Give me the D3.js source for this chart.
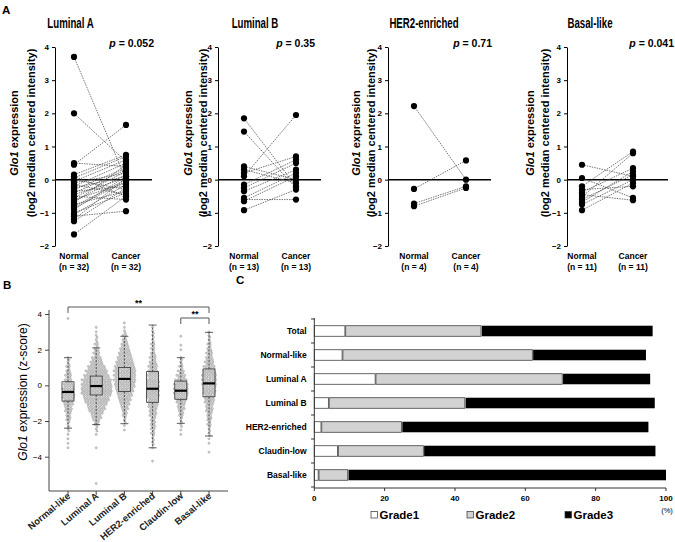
<!DOCTYPE html>
<html><head><meta charset="utf-8">
<script src="https://cdn.jsdelivr.net/npm/d3@7"></script>
<style>body{margin:0;background:#fff}svg{display:block}text{font-family:"Liberation Sans",Arial,sans-serif}</style>
</head><body><svg id="c" width="675" height="542"></svg>
<script>
// ---------- Panel A data ----------
const pairTitles = ["Luminal A", "Luminal B", "HER2-enriched", "Basal-like"];
const pValues = ["0.052", "0.35", "0.71", "0.041"];
const nCounts = [32, 13, 4, 11];
const lumANormal = [3.7, 2.0, 0.5, 0.45, 0.15, 0.1, 0.05, 0.0, -0.05, -0.1, -0.15, -0.2, -0.25, -0.3, -0.35, -0.4, -0.45, -0.5, -0.55, -0.6, -0.65, -0.7, -0.75, -0.8, -0.85, -0.9, -1.0, -1.05, -1.1, -1.2, -1.25, -1.65];
const lumACancer = [0.0, 0.55, 0.4, 1.65, 0.75, -0.5, 0.7, -0.3, 0.6, 0.2, -0.45, 0.5, 0.1, 0.35, -0.2, 0.3, 0.05, -0.6, 0.25, -0.1, 0.15, 0.45, -0.35, 0.0, -0.05, 0.1, -0.4, -0.15, -0.95, 0.05, -0.25, -0.5];
const lumBNormal = [1.85, 1.45, 0.4, 0.3, 0.2, 0.1, -0.15, -0.25, -0.35, -0.55, -0.6, -0.65, -0.92];
const lumBCancer = [-0.2, -0.25, 0.0, -0.1, 0.7, 1.95, 0.6, 0.5, 0.3, 0.2, -0.6, 0.1, -0.3];
const her2Normal = [2.22, -0.28, -0.72, -0.8];
const her2Cancer = [0.0, 0.58, -0.2, -0.25];
const basalNormal = [0.45, 0.05, -0.2, -0.3, -0.38, -0.45, -0.52, -0.6, -0.68, -0.75, -0.92];
const basalCancer = [0.1, -0.55, 0.85, -0.2, 0.35, -0.62, 0.8, 0.15, 0.25, 0.0, -0.1];
const pairTicks = [-2, -1, 0, 1, 2, 3, 4];

// ---------- Panel B data ----------
const boxCats = ["Normal-like", "Luminal A", "Luminal B", "HER2-enriched", "Claudin-low", "Basal-like"];
const boxQ1 = [-0.88, -0.54, -0.35, -0.95, -0.78, -0.64];
const boxMed = [-0.37, -0.04, 0.36, -0.19, -0.3, 0.11];
const boxQ3 = [0.2, 0.52, 1.0, 0.77, 0.24, 0.92];
const whiskLo = [-2.4, -2.2, -2.15, -3.5, -2.13, -2.84];
const whiskHi = [1.55, 2.1, 2.75, 3.38, 1.55, 2.97];
const boxTicks = [-4, -2, 0, 2, 4];
// binned point counts (bin centre, count), bins 0.25 wide
const swarmNormalLike = [[3.75,1],[1.5,2],[1.25,2],[1.0,3],[0.75,4],[0.5,5],[0.25,6],[0.0,8],[-0.25,9],[-0.5,10],[-0.75,9],[-1.0,8],[-1.25,6],[-1.5,5],[-1.75,4],[-2.0,3],[-2.25,2],[-2.5,2],[-2.75,1],[-3.0,1],[-3.25,1],[-3.5,1]];
const swarmLumA = [[3.25,1],[3.0,1],[2.75,2],[2.5,2],[2.25,3],[2.0,4],[1.75,5],[1.5,8],[1.25,10],[1.0,14],[0.75,17],[0.5,20],[0.25,23],[0.0,24],[-0.25,24],[-0.5,23],[-0.75,20],[-1.0,17],[-1.25,14],[-1.5,11],[-1.75,8],[-2.0,5],[-2.25,3],[-2.5,2],[-2.75,1],[-3.5,1],[-5.5,1]];
const swarmLumB = [[3.5,1],[3.25,1],[3.0,2],[2.75,3],[2.5,4],[2.25,6],[2.0,8],[1.75,10],[1.5,12],[1.25,14],[1.0,16],[0.75,17],[0.5,17],[0.25,17],[0.0,16],[-0.25,14],[-0.5,12],[-0.75,10],[-1.0,8],[-1.25,6],[-1.5,4],[-1.75,3],[-2.0,2],[-2.25,1],[-2.5,1]];
const swarmHER2 = [[3.25,1],[3.0,2],[2.75,2],[2.5,2],[2.25,3],[2.0,3],[1.75,4],[1.5,5],[1.25,6],[1.0,7],[0.75,8],[0.5,9],[0.25,10],[0.0,10],[-0.25,10],[-0.5,10],[-0.75,9],[-1.0,8],[-1.25,7],[-1.5,6],[-1.75,5],[-2.0,4],[-2.25,4],[-2.5,3],[-2.75,3],[-3.0,2],[-3.25,2],[-3.5,1],[-4.25,1]];
const swarmClaudin = [[2.75,1],[2.25,1],[2.0,1],[1.5,2],[1.25,2],[1.0,3],[0.75,5],[0.5,7],[0.25,9],[0.0,11],[-0.25,11],[-0.5,11],[-0.75,9],[-1.0,7],[-1.25,6],[-1.5,4],[-1.75,3],[-2.0,2],[-2.25,2],[-2.5,1],[-2.75,1]];
const swarmBasal = [[3.0,1],[2.75,2],[2.5,2],[2.25,3],[2.0,4],[1.75,5],[1.5,6],[1.25,7],[1.0,9],[0.75,10],[0.5,11],[0.25,11],[0.0,11],[-0.25,10],[-0.5,9],[-0.75,8],[-1.0,7],[-1.25,6],[-1.5,5],[-1.75,4],[-2.0,3],[-2.25,3],[-2.5,2],[-2.75,2],[-3.0,1],[-3.25,1],[-3.75,1]];

// ---------- Panel C data ----------
const gradeCats = ["Total", "Normal-like", "Luminal A", "Luminal B", "HER2-enriched", "Claudin-low", "Basal-like"];
const grade1 = [8.7, 7.9, 17.3, 4.0, 1.9, 6.6, 1.1];
const grade2 = [38.7, 54.1, 53.2, 38.8, 22.9, 24.4, 8.4];
const grade3 = [48.8, 32.3, 25.0, 54.0, 70.2, 66.0, 90.5];
const gradeNames = ["Grade1", "Grade2", "Grade3"];
const xTicksC = [0, 20, 40, 60, 80, 100];

// ---------- drawing ----------
const svg = d3.select("#c");
const FONT = '"Liberation Sans",Arial,sans-serif';

function letter(x, y, t) {
  svg.append("text").attr("x", x).attr("y", y).attr("font-size", 11.5).attr("font-weight", "bold").text(t);
}
letter(2, 14, "A"); letter(3, 289, "B"); letter(236, 284, "C");

// Panel A
const layA = [
  {ax: 55, nx: 74, cx: 126, ze: 152, l1: 18, l2: 35, tx: 70.5, px: 154},
  {ax: 218, nx: 244, cx: 296, ze: 321, l1: 192, l2: 207, tx: 255, px: 315},
  {ax: 388, nx: 414, cx: 466, ze: 491, l1: 360, l2: 375, tx: 424, px: 492},
  {ax: 567, nx: 582, cx: 633, ze: 668, l1: 534, l2: 549, tx: 590, px: 674}
];
const normals = [lumANormal, lumBNormal, her2Normal, basalNormal];
const cancers = [lumACancer, lumBCancer, her2Cancer, basalCancer];
const yA = d3.scaleLinear().domain([-2, 4]).range([246, 47]);

pairTitles.forEach((title, i) => {
  const L = layA[i];
  const g = svg.append("g");
  const tt = g.append("text").attr("x", L.tx).attr("y", 28).attr("text-anchor", "middle")
    .attr("font-size", 14).attr("font-weight", "bold").text(title);
  const w = tt.node().getComputedTextLength();
  tt.attr("textLength", w * 0.69).attr("lengthAdjust", "spacingAndGlyphs");
  const pt = g.append("text").attr("x", L.px).attr("y", 47).attr("text-anchor", "end")
    .attr("font-size", 10.5).attr("font-weight", "bold");
  pt.append("tspan").attr("font-style", "italic").text("p");
  pt.append("tspan").text(" = " + pValues[i]);
  const axis = d3.axisLeft(yA).tickValues(pairTicks).tickFormat(d3.format("d"))
    .tickSize(3).tickSizeOuter(0).tickPadding(3);
  const ag = g.append("g").attr("transform", `translate(${L.ax},0)`).call(axis);
  ag.selectAll("text").attr("font-size", 8).attr("font-weight", "bold").attr("font-family", FONT);
  ag.selectAll("line,path").attr("stroke", "#000").attr("stroke-width", 1);
  g.append("line").attr("x1", L.ax).attr("x2", L.ze).attr("y1", yA(0)).attr("y2", yA(0))
    .attr("stroke", "#000").attr("stroke-width", 1.5);
  const yl = g.append("text").attr("transform", `translate(${L.l1},133) rotate(-90)`)
    .attr("text-anchor", "middle").attr("font-size", 11).attr("font-weight", "bold");
  yl.append("tspan").attr("font-style", "italic").text("Glo1");
  yl.append("tspan").text(" expression");
  g.append("text").attr("transform", `translate(${L.l2},133) rotate(-90)`)
    .attr("text-anchor", "middle").attr("font-size", 11).attr("font-weight", "bold")
    .text("(log2 median centered intensity)");
  [[L.nx, "Normal"], [L.cx, "Cancer"]].forEach(([x, t]) => {
    g.append("text").attr("x", x).attr("y", 259).attr("text-anchor", "middle")
      .attr("font-size", 8.5).attr("font-weight", "bold").text(t);
    g.append("text").attr("x", x).attr("y", 270).attr("text-anchor", "middle")
      .attr("font-size", 8.5).attr("font-weight", "bold").text("(n = " + nCounts[i] + ")");
  });
  const nv = normals[i], cv = cancers[i];
  g.selectAll(".pl").data(nv).enter().append("line")
    .attr("x1", L.nx).attr("x2", L.cx)
    .attr("y1", d => yA(d)).attr("y2", (d, j) => yA(cv[j]))
    .attr("stroke", "#555").attr("stroke-width", 0.8).attr("stroke-dasharray", "1.5,1");
  g.selectAll(".nd").data(nv).enter().append("circle")
    .attr("cx", L.nx).attr("cy", d => yA(d)).attr("r", 3.1).attr("fill", "#000");
  g.selectAll(".cd").data(cv).enter().append("circle")
    .attr("cx", L.cx).attr("cy", d => yA(d)).attr("r", 3.1).attr("fill", "#000");
});

// Panel B
const yB = d3.scaleLinear().domain([-4, 4]).range([456.7, 314]);
const xB = d3.scalePoint().domain(boxCats).range([68, 209]);
const gB = svg.append("g");
const axB = d3.axisLeft(yB).tickValues(boxTicks).tickSize(4).tickSizeOuter(0).tickPadding(3);
const agB = gB.append("g").attr("transform", "translate(49,0)").call(axB);
agB.select(".domain").remove();
agB.selectAll("text").attr("font-size", 8).attr("font-family", FONT);
agB.selectAll("line").attr("stroke", "#444");
gB.append("line").attr("x1", 49).attr("x2", 49).attr("y1", 310).attr("y2", 491).attr("stroke", "#444");
gB.append("line").attr("x1", 49).attr("x2", 228).attr("y1", 491).attr("y2", 491).attr("stroke", "#444");
boxCats.forEach(c => {
  gB.append("line").attr("x1", xB(c)).attr("x2", xB(c)).attr("y1", 491).attr("y2", 495).attr("stroke", "#444");
  gB.append("text").attr("transform", `translate(${xB(c) + 3},497) rotate(-40)`)
    .attr("text-anchor", "end").attr("font-size", 9.5).attr("font-weight", "bold").attr("fill", "#222").text(c);
});
const ylB = gB.append("text").attr("transform", "translate(27,392) rotate(-90)")
  .attr("text-anchor", "middle").attr("font-size", 12);
ylB.append("tspan").attr("font-style", "italic").text("Glo1");
ylB.append("tspan").text(" expression (z-score)");

const swarms = [swarmNormalLike, swarmLumA, swarmLumB, swarmHER2, swarmClaudin, swarmBasal];
const rowOff = [-1.1, 1.1];
swarms.forEach((bins, ci) => {
  const cx = xB(boxCats[ci]);
  const pts = [];
  bins.forEach(([v, c]) => {
    for (let i = 0; i < c; i++) {
      const r = i % 2, k = Math.floor(i / 2);
      const m = Math.floor((c - r - 1) / 2) + 1;
      pts.push({x: cx + (k - (m - 1) / 2) * 2.6 + (r === 1 ? 0.8 : 0), y: yB(v) + (c > 1 ? rowOff[r] : 0)});
    }
  });
  gB.append("g").selectAll("circle").data(pts).enter().append("circle")
    .attr("cx", d => d.x).attr("cy", d => d.y).attr("r", 1.05)
    .attr("fill", "#d6d6d6").attr("stroke", "#8a8a8a").attr("stroke-width", 0.45);
});
boxCats.forEach((c, i) => {
  const cx = xB(c), hw = 6;
  const bg = gB.append("g").attr("stroke", "#333").attr("stroke-width", 0.8).attr("fill", "none");
  bg.append("line").attr("x1", cx).attr("x2", cx).attr("y1", yB(boxQ3[i])).attr("y2", yB(whiskHi[i])).attr("stroke-dasharray", "2,1.5");
  bg.append("line").attr("x1", cx).attr("x2", cx).attr("y1", yB(boxQ1[i])).attr("y2", yB(whiskLo[i])).attr("stroke-dasharray", "2,1.5");
  bg.append("line").attr("x1", cx - 4).attr("x2", cx + 4).attr("y1", yB(whiskHi[i])).attr("y2", yB(whiskHi[i]));
  bg.append("line").attr("x1", cx - 4).attr("x2", cx + 4).attr("y1", yB(whiskLo[i])).attr("y2", yB(whiskLo[i]));
  bg.append("rect").attr("x", cx - hw).attr("width", hw * 2).attr("y", yB(boxQ3[i])).attr("height", yB(boxQ1[i]) - yB(boxQ3[i]));
  gB.append("line").attr("x1", cx - hw).attr("x2", cx + hw).attr("y1", yB(boxMed[i])).attr("y2", yB(boxMed[i]))
    .attr("stroke", "#000").attr("stroke-width", 2.2);
});
function bracket(a, b, y, h) {
  const x1 = xB(a), x2 = xB(b);
  gB.append("path").attr("d", `M${x1},${y + h}V${y}H${x2}V${y + h}`).attr("fill", "none").attr("stroke", "#444").attr("stroke-width", 0.9);
  gB.append("text").attr("x", (x1 + x2) / 2).attr("y", y - 1.5).attr("text-anchor", "middle")
    .attr("font-size", 9).attr("font-weight", "bold").text("**");
}
bracket("Normal-like", "Basal-like", 307, 6);
bracket("Claudin-low", "Basal-like", 318, 6);

// Panel C
const xC = d3.scaleLinear().domain([0, 100]).range([314.3, 666]);
const yC = d3.scaleBand().domain(gradeCats).range([319, 487]).paddingInner(0.56).paddingOuter(0.28);
const gC = svg.append("g");
const segFill = ["#fff", "#d2d2d2", "#000"];
gradeCats.forEach((c, i) => {
  const vals = [grade1[i], grade2[i], grade3[i]];
  let acc = 0;
  vals.forEach((v, k) => {
    const x0 = xC(acc), x1 = xC(acc + v);
    gC.append("rect").attr("x", x0 + (k > 0 ? 0.8 : 0)).attr("y", yC(c))
      .attr("width", Math.max(0.5, x1 - x0 - (k > 0 ? 0.8 : 0))).attr("height", yC.bandwidth())
      .attr("fill", segFill[k]).attr("stroke", k < 2 ? "#444" : "none").attr("stroke-width", 0.8);
    acc += v;
  });
  gC.append("text").attr("x", 306.7).attr("y", yC(c) + yC.bandwidth() / 2 + 3)
    .attr("text-anchor", "end").attr("font-size", 8.5).attr("font-weight", "bold").text(c);
});
gC.append("line").attr("x1", 314.3).attr("x2", 314.3).attr("y1", 318).attr("y2", 488).attr("stroke", "#333");
gC.append("line").attr("x1", 314.3).attr("x2", 666).attr("y1", 488).attr("y2", 488).attr("stroke", "#333");
d3.range(gradeCats.length + 1).forEach(i => {
  const y = 319 + yC.step() * i;
  gC.append("line").attr("x1", 311).attr("x2", 314.3).attr("y1", y).attr("y2", y).attr("stroke", "#333");
});
xTicksC.forEach(t => {
  gC.append("line").attr("x1", xC(t)).attr("x2", xC(t)).attr("y1", 488).attr("y2", 491).attr("stroke", "#333");
  gC.append("text").attr("x", xC(t)).attr("y", 501).attr("text-anchor", "middle")
    .attr("font-size", 8).attr("font-weight", "bold").text(t);
});
gC.append("text").attr("x", 667).attr("y", 513).attr("text-anchor", "middle").attr("font-size", 7.5).text("(%)");
const legX = [371, 467, 565];
gradeNames.forEach((n, k) => {
  gC.append("rect").attr("x", legX[k]).attr("y", 511.5).attr("width", 6.5).attr("height", 6.5)
    .attr("fill", segFill[k]).attr("stroke", "#333").attr("stroke-width", 0.7);
  gC.append("text").attr("x", legX[k] + 8.5).attr("y", 519).attr("font-size", 11.5).attr("font-weight", "bold").text(n);
});
</script></body></html>
